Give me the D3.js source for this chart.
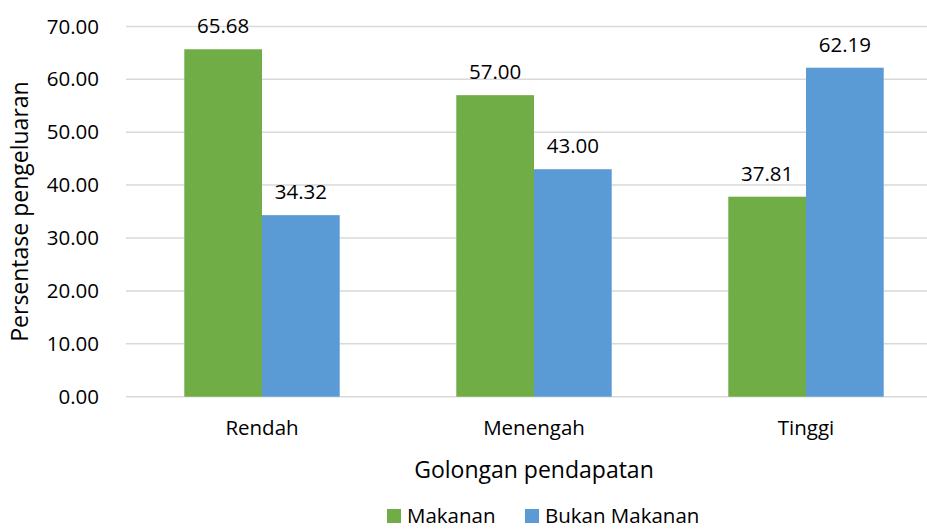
<!DOCTYPE html>
<html>
<head>
<meta charset="utf-8">
<script src="https://cdn.jsdelivr.net/npm/d3@7"></script>
<style>
  body { margin: 0; background: #fff; }
  svg { display: block; font-family: "Open Sans", sans-serif; }
</style>
</head>
<body>
<svg id="chart"></svg>
<script>
const categories = ["Rendah", "Menengah", "Tinggi"];
const seriesNames = ["Makanan", "Bukan Makanan"];
const makanan = [65.68, 57.00, 37.81];
const bukanMakanan = [34.32, 43.00, 62.19];
const yTicks = [0, 10, 20, 30, 40, 50, 60, 70];
const colors = ["#70AD47", "#5B9BD5"];

const width = 927, height = 530;
const svg = d3.select("#chart")
    .attr("width", width)
    .attr("height", height);

// plot area runs a bit past the right edge, like the source crop
const plotLeft = 126, plotRight = 942, plotTop = 26.4, plotBottom = 396.7;

const x = d3.scaleBand()
    .domain(categories)
    .range([plotLeft, plotRight])
    .paddingInner(0)
    .paddingOuter(0);
const barW = x.bandwidth() / (2 + 1.5);
const y = d3.scaleLinear().domain([0, 70]).range([plotBottom, plotTop]);

const rows = categories.map((c, i) => ({ cat: c, values: [makanan[i], bukanMakanan[i]] }));

// gridlines
svg.append("g")
    .selectAll("line")
    .data(yTicks)
    .enter().append("line")
    .attr("x1", plotLeft)
    .attr("x2", plotRight)
    .attr("y1", d => y(d))
    .attr("y2", d => y(d))
    .attr("stroke", "#D9D9D9")
    .attr("stroke-width", 1.5);

// y tick labels
svg.append("g")
    .selectAll("text")
    .data(yTicks)
    .enter().append("text")
    .attr("x", 99)
    .attr("y", d => y(d))
    .attr("dy", "0.35em")
    .attr("text-anchor", "end")
    .style("font-size", "20.5px")
    .attr("fill", "#000")
    .text(d => d.toFixed(2));

// bars
const groups = svg.append("g")
    .selectAll("g")
    .data(rows)
    .enter().append("g")
    .attr("transform", d => `translate(${x(d.cat) + x.bandwidth() / 2 - barW},0)`);

groups.selectAll("rect")
    .data(d => d.values)
    .enter().append("rect")
    .attr("x", (d, i) => i * barW)
    .attr("y", d => y(d))
    .attr("width", barW)
    .attr("height", d => y(0) - y(d))
    .attr("fill", (d, i) => colors[i]);

groups.selectAll("text")
    .data(d => d.values)
    .enter().append("text")
    .attr("x", (d, i) => i * barW + barW / 2)
    .attr("y", d => y(d) - 16)
    .attr("text-anchor", "middle")
    .style("font-size", "20.5px")
    .attr("fill", "#000")
    .text(d => d.toFixed(2));

// x category labels
svg.append("g")
    .selectAll("text")
    .data(categories)
    .enter().append("text")
    .attr("x", d => x(d) + x.bandwidth() / 2)
    .attr("y", 435)
    .attr("text-anchor", "middle")
    .style("font-size", "20.5px")
    .attr("fill", "#000")
    .text(d => d);

// axis titles
svg.append("text")
    .attr("x", (plotLeft + plotRight) / 2)
    .attr("y", 478)
    .attr("text-anchor", "middle")
    .style("font-size", "23px")
    .attr("fill", "#000")
    .text("Golongan pendapatan");

svg.append("text")
    .attr("transform", `translate(28,${(plotTop + plotBottom) / 2}) rotate(-90)`)
    .attr("text-anchor", "middle")
    .style("font-size", "23px")
    .attr("fill", "#000")
    .text("Persentase pengeluaran");

// legend
const legendX = [387, 525];
const legend = svg.append("g")
    .selectAll("g")
    .data(seriesNames)
    .enter().append("g")
    .attr("transform", (d, i) => `translate(${legendX[i]},509)`);
legend.append("rect")
    .attr("width", 14)
    .attr("height", 14)
    .attr("fill", (d, i) => colors[i]);
legend.append("text")
    .attr("x", 20)
    .attr("y", 14)
    .style("font-size", "20.5px")
    .attr("fill", "#000")
    .text(d => d);
</script>
</body>
</html>
